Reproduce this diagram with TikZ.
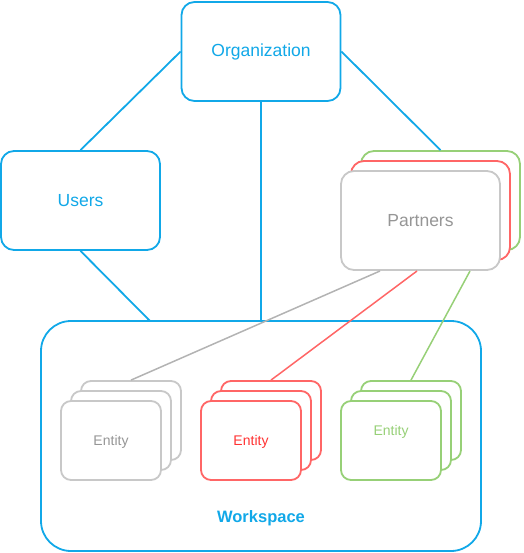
\documentclass[tikz,border=0pt]{standalone}
\usepackage{fontspec}
\setmainfont{Liberation Sans}
\definecolor{cblue}{RGB}{17,168,232}
\definecolor{cgray}{RGB}{200,200,200}
\definecolor{cgrayline}{RGB}{179,179,179}
\definecolor{cgraytext}{RGB}{150,150,150}
\definecolor{cred}{RGB}{255,102,102}
\definecolor{credtext}{RGB}{255,51,51}
\definecolor{cgreen}{RGB}{151,208,119}
\begin{document}
\begin{tikzpicture}[x=1pt,y=-1pt,
  box/.style={draw,line width=1.8pt,rounded corners=13pt,fill=white,minimum width=159pt,minimum height=99pt,inner sep=0pt,font=\fontsize{17.5}{20}\selectfont},
  ebox/.style={draw,line width=1.8pt,rounded corners=10pt,fill=white,minimum width=100pt,minimum height=79pt,inner sep=0pt},
  etxt/.style={font=\fontsize{14}{16}\selectfont,inner sep=0pt},
  link/.style={line width=1.8pt},
  plink/.style={line width=1.5pt}]
\useasboundingbox (0,0) rectangle (523,553);
% workspace
\node[draw=cblue,line width=1.8pt,rounded corners=30pt,minimum width=440pt,minimum height=230pt,inner sep=0pt] (ws) at (261,436) {};
\node[text=cblue,font=\bfseries\fontsize{16.5}{19}\selectfont] (wslabel) at (261,518) {Workspace};
% top nodes
\node[box,draw=cblue,text=cblue] (org) at (261,51.5) {Organization};
\node[box,draw=cblue,text=cblue] (users) at (80.5,200.5) {Users};
% partners stack
\node[box,draw=cgreen] (pg) at (440.5,200.5) {};
\node[box,draw=cred] (pr) at (430.5,210.5) {};
\node[box,draw=cgray,text=cgraytext] (pf) at (420.5,220.5) {Partners};
% entity stacks
\node[ebox,draw=cgray] (g3) at (131,420.5) {};
\node[ebox,draw=cgray] (g2) at (121,430.5) {};
\node[ebox,draw=cgray] (g1) at (111,440.5) {};
\node[etxt,text=cgraytext] (gt) at (111,442) {Entity};
\node[ebox,draw=cred] (r3) at (271,420.5) {};
\node[ebox,draw=cred] (r2) at (261,430.5) {};
\node[ebox,draw=cred] (r1) at (251,440.5) {};
\node[etxt,text=credtext] (rt) at (251,442) {Entity};
\node[ebox,draw=cgreen] (e3) at (411,420.5) {};
\node[ebox,draw=cgreen] (e2) at (401,430.5) {};
\node[ebox,draw=cgreen] (e1) at (391,440.5) {};
\node[etxt,text=cgreen] (et) at (391,432) {Entity};
% coordinates
\coordinate (uws) at (150,321);
\coordinate (pgray) at (380,271);
\coordinate (pred) at (417,271);
\coordinate (pgreen) at (470,271);
% connectors
\draw[link,cblue] (org.west) -- (users.north);
\draw[link,cblue] (org.east) -- (pg.north);
\draw[link,cblue] (org.south) -- (org.south |- ws.north);
\draw[link,cblue] (users.south) -- (uws);
\draw[plink,cgrayline] (pgray) -- (g3.north);
\draw[plink,cred] (pred) -- (r3.north);
\draw[plink,cgreen] (pgreen) -- (e3.north);
\end{tikzpicture}
\end{document}
